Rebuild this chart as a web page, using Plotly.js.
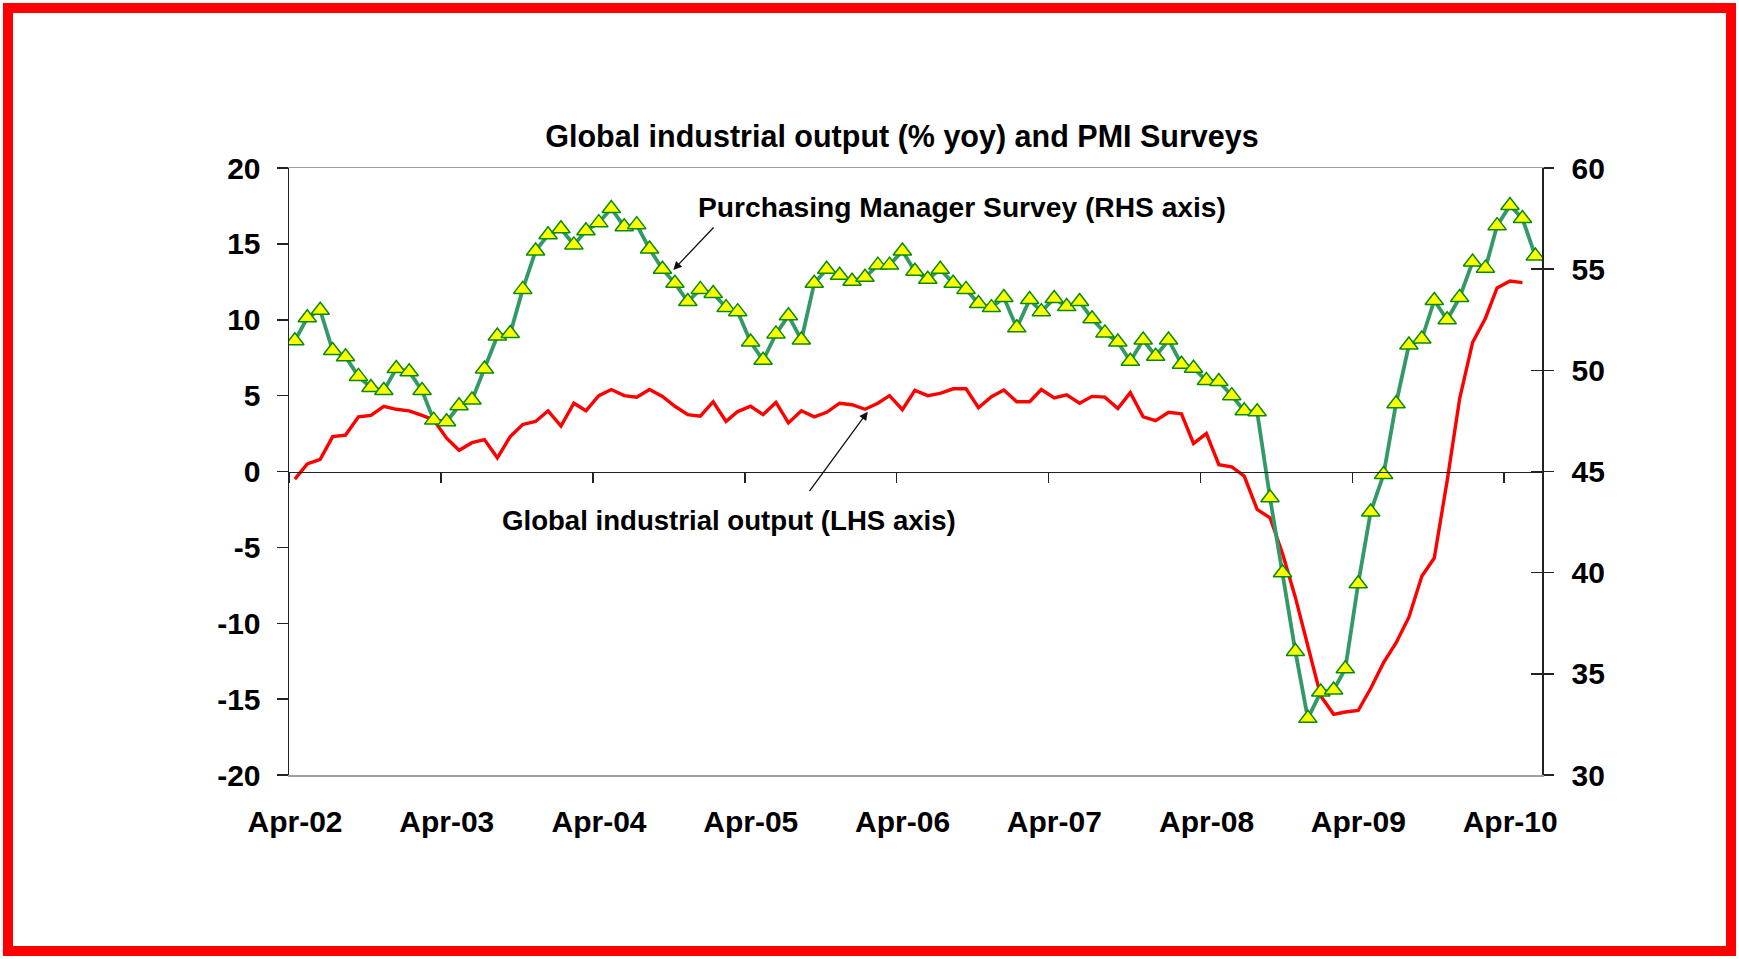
<!DOCTYPE html>
<html>
<head>
<meta charset="utf-8">
<script src="https://cdn.plot.ly/plotly-3.0.1.min.js"></script>
<style>
  html, body { margin: 0; padding: 0; background: #ffffff; }
  #chart { width: 1739px; height: 959px; position: absolute; left: 0; top: 0; }
  #frame { position: absolute; left: 3px; top: 3px; width: 1713px; height: 933px;
           border: 10px solid #ff0000; pointer-events: none; }
</style>
</head>
<body>
<div id="chart"></div>
<div id="frame"></div>
<script>
// ---- data (monthly, first observation Apr-2002) ----
const startYear = 2002;
const startMonth = 4;

// Purchasing Manager Survey (RHS axis), Apr-02 .. Jun-10
const pmiValues = [
  51.46, 52.6, 52.97, 50.98, 50.67, 49.7, 49.15, 49.0, 50.09, 49.93,
  49.0, 47.54, 47.46, 48.25, 48.53, 50.07, 51.7, 51.82, 54.0, 55.9,
  56.7, 57.0, 56.2, 56.9, 57.3, 58.0, 57.1, 57.2, 56.0, 55.0,
  54.3, 53.4, 54.0, 53.8, 53.1, 52.9, 51.4, 50.5, 51.8, 52.7,
  51.5, 54.3, 55.0, 54.7, 54.4, 54.6, 55.2, 55.2, 55.9, 54.9,
  54.5, 55.0, 54.3, 54.0, 53.3, 53.1, 53.6, 52.1, 53.5, 52.9,
  53.55, 53.15, 53.4, 52.55, 51.85, 51.4, 50.45, 51.5, 50.7, 51.5,
  50.3, 50.1, 49.5, 49.45, 48.75, 48.0, 47.95, 43.7, 40.0, 36.1,
  32.8, 34.1, 34.2, 35.25, 39.45, 43.0, 44.85, 48.35, 51.25, 51.55,
  53.45, 52.5, 53.6, 55.35, 55.05, 57.15, 58.15, 57.5, 55.65
];

// Global industrial output, % yoy (LHS axis), Apr-02 .. May-10
const outputValues = [
  -0.5, 0.5, 0.8, 2.3, 2.4, 3.6, 3.7, 4.3, 4.1, 4.0,
  3.7, 3.4, 2.2, 1.4, 1.9, 2.1, 0.9, 2.3, 3.1, 3.3,
  4.0, 3.0, 4.5, 4.0, 5.0, 5.4, 5.0, 4.9, 5.4, 4.95,
  4.3, 3.75, 3.65, 4.6, 3.3, 3.95, 4.3, 3.75, 4.55, 3.2,
  4.0, 3.6, 3.9, 4.5, 4.4, 4.1, 4.5, 5.0, 4.07, 5.35,
  5.0, 5.15, 5.45, 5.45, 4.2, 4.93, 5.37, 4.6, 4.6, 5.4,
  4.85, 5.05, 4.5, 4.95, 4.9, 4.15, 5.2, 3.6, 3.35, 3.9,
  3.8, 1.85, 2.5, 0.45, 0.3, -0.3, -2.5, -3.05, -5.4, -8.3,
  -11.5, -14.8, -16.0, -15.85, -15.75, -14.3, -12.6, -11.3, -9.6, -6.9,
  -5.7, -0.6, 4.8, 8.5, 10.1, 12.1, 12.55, 12.45
];

const tickDates = ['2002-04-01','2003-04-01','2004-04-01','2005-04-01','2006-04-01',
                   '2007-04-01','2008-04-01','2009-04-01','2010-04-01'];
const tickLabels = ['Apr-02','Apr-03','Apr-04','Apr-05','Apr-06','Apr-07','Apr-08','Apr-09','Apr-10'];

const leftTickValues = [-20, -15, -10, -5, 0, 5, 10, 15, 20];
const leftTickLabels = ['-20', '-15', '-10', '-5', '0', '5', '10', '15', '20'];
const rightTickValues = [30, 35, 40, 45, 50, 55, 60];
const rightTickLabels = ['30', '35', '40', '45', '50', '55', '60'];

const titleText = 'Global industrial output (% yoy) and PMI Surveys';
const pmiLabel = 'Purchasing Manager Survey (RHS axis)';
const outputLabel = 'Global industrial output (LHS axis)';

// ---- build monthly dates (mid-month) ----
function monthDates(n) {
  const out = [];
  for (let i = 0; i < n; i++) {
    const m0 = startMonth - 1 + i;
    const y = startYear + Math.floor(m0 / 12);
    const m = (m0 % 12) + 1;
    out.push(y + '-' + String(m).padStart(2, '0') + '-15');
  }
  return out;
}
const pmiDates = monthDates(pmiValues.length);
const outputDates = monthDates(outputValues.length);

const FONT = 'Liberation Sans, Arial, sans-serif';
const xRange = ['2002-04-01', '2010-07-01'];

const traces = [
  { // carrier for the zero-line tick axis
    x: [pmiDates[0]], y: [null], xaxis: 'x2', yaxis: 'y', mode: 'lines',
    showlegend: false, hoverinfo: 'skip'
  },
  { // carrier for inner right ticks
    x: [pmiDates[0]], y: [null], xaxis: 'x', yaxis: 'y3', mode: 'lines',
    showlegend: false, hoverinfo: 'skip'
  },
  {
    x: outputDates, y: outputValues, xaxis: 'x', yaxis: 'y',
    mode: 'lines', name: outputLabel,
    line: { color: '#ff0000', width: 3.4 },
    showlegend: false
  },
  {
    x: pmiDates, y: pmiValues, xaxis: 'x', yaxis: 'y2',
    mode: 'lines+markers', name: pmiLabel,
    line: { color: '#339966', width: 3.8 },
    marker: { symbol: 'triangle-up', size: 16, color: '#ffff00',
              line: { color: '#0a8a0a', width: 1.5 } },
    showlegend: false
  }
];

const tickFont = { family: FONT, size: 30, color: '#000000', weight: 'bold' };

const layout = {
  width: 1739, height: 959,
  paper_bgcolor: '#ffffff', plot_bgcolor: '#ffffff',
  margin: { l: 289, r: 197, t: 168, b: 184, pad: 0 },
  showlegend: false,
  title: {
    text: '<b>' + titleText + '</b>',
    font: { family: FONT, size: 30.5, color: '#000000' },
    xref: 'paper', x: 0.4892, xanchor: 'center',
    yref: 'container', y: 1 - 136 / 959, yanchor: 'middle'
  },
  xaxis: {
    type: 'date', range: xRange, anchor: 'y',
    tickmode: 'array', tickvals: tickDates, ticktext: tickLabels,
    ticks: '', showgrid: false, zeroline: false,
    showline: true, linecolor: '#a0a0a0', linewidth: 1.5, mirror: true,
    tickfont: tickFont, ticklabelshift: 6, ticklabelstandoff: 19
  },
  xaxis2: {
    type: 'date', range: xRange, overlaying: 'x', anchor: 'free', position: 0.5,
    tickmode: 'array', tickvals: tickDates,
    ticks: 'outside', ticklen: 10, tickwidth: 1.5, tickcolor: '#222222',
    showticklabels: false, showgrid: false, zeroline: false,
    showline: true, linecolor: '#222222', linewidth: 1.5
  },
  yaxis: {
    range: [-20, 20], tickmode: 'array', tickvals: leftTickValues, ticktext: leftTickLabels,
    ticks: 'outside', ticklen: 11, tickwidth: 1.5, tickcolor: '#222222',
    showline: true, linecolor: '#222222', linewidth: 1.5,
    showgrid: false, zeroline: false,
    tickfont: tickFont, ticklabelstandoff: 10
  },
  yaxis2: {
    range: [30, 60], tickmode: 'array', tickvals: rightTickValues, ticktext: rightTickLabels,
    overlaying: 'y', side: 'right', anchor: 'x',
    ticks: 'outside', ticklen: 10, tickwidth: 1.5, tickcolor: '#222222',
    showline: true, linecolor: '#222222', linewidth: 1.5,
    showgrid: false, zeroline: false,
    tickfont: tickFont, ticklabelstandoff: 12
  },
  yaxis3: {
    range: [30, 60], tickmode: 'array', tickvals: rightTickValues,
    overlaying: 'y', side: 'right', anchor: 'x',
    ticks: 'inside', ticklen: 11, tickwidth: 1.5, tickcolor: '#222222',
    showticklabels: false, showline: false, showgrid: false, zeroline: false
  },
  annotations: [
    {
      xref: 'paper', yref: 'paper', x: 0.5375, y: 0.9358,
      xanchor: 'center', yanchor: 'middle', showarrow: false,
      text: '<b>' + pmiLabel + '</b>',
      font: { family: FONT, size: 28.2, color: '#000000' }
    },
    {
      xref: 'paper', yref: 'paper', x: 0.3508, y: 0.4185,
      xanchor: 'center', yanchor: 'middle', showarrow: false,
      text: '<b>' + outputLabel + '</b>',
      font: { family: FONT, size: 27.6, color: '#000000' }
    },
    {
      xref: 'paper', yref: 'paper', x: 0.3067, y: 0.832,
      ax: 41.7, ay: -44, axref: 'pixel', ayref: 'pixel',
      text: '', showarrow: true, arrowhead: 2, arrowsize: 1.3, arrowwidth: 1.3,
      arrowcolor: '#111111', standoff: 0, startstandoff: 0,
      font: { size: 1 }
    },
    {
      xref: 'paper', yref: 'paper', x: 0.4619, y: 0.5985,
      ax: -59.4, ay: 81, axref: 'pixel', ayref: 'pixel',
      text: '', showarrow: true, arrowhead: 2, arrowsize: 1.3, arrowwidth: 1.3,
      arrowcolor: '#111111', standoff: 0, startstandoff: 0,
      font: { size: 1 }
    }
  ]
};

Plotly.newPlot('chart', traces, layout, { displayModeBar: false, staticPlot: true });
</script>
</body>
</html>
